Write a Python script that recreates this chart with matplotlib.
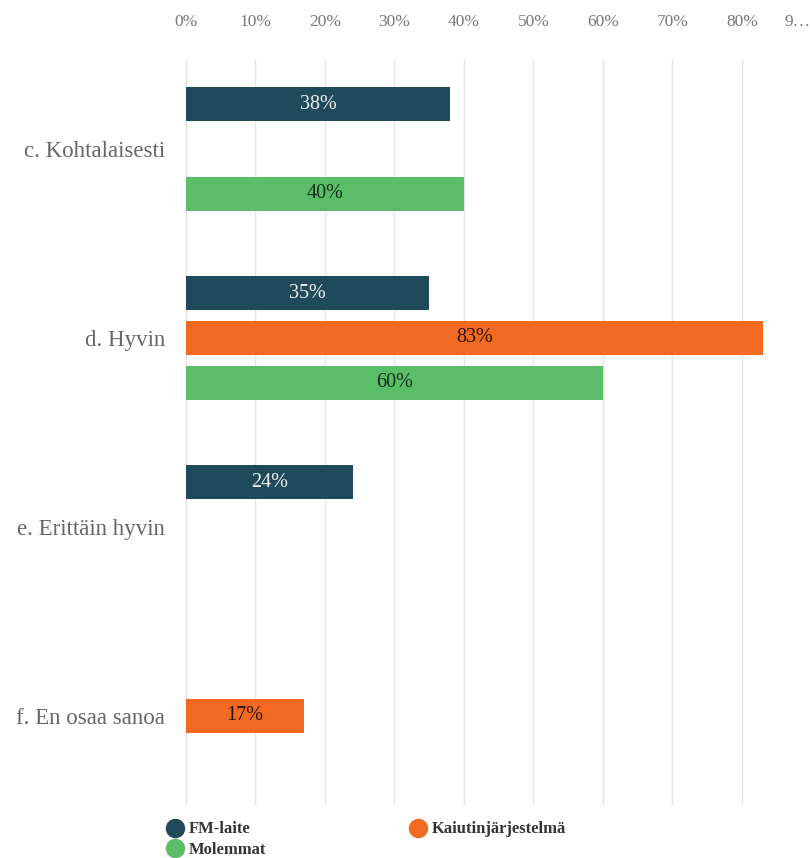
import numpy as np
import matplotlib
matplotlib.use("Agg")
import matplotlib.pyplot as plt
from matplotlib.lines import Line2D

categories = ["c. Kohtalaisesti", "d. Hyvin", "e. Erittäin hyvin", "f. En osaa sanoa"]
series_names = ["FM-laite", "Kaiutinjärjestelmä", "Molemmat"]
fm_laite = [38, 35, 24, np.nan]
kaiutin = [np.nan, 83, np.nan, 17]
molemmat = [40, 60, np.nan, np.nan]
tick_values = [0, 10, 20, 30, 40, 50, 60, 70, 80]

colors = ["#1f4a5c", "#f26a21", "#5cbd68"]
label_colors = ["#f0f0f0", "#2a1206", "#10301a"]

plt.rcParams["font.family"] = ["Liberation Serif", "DejaVu Serif"]

fig = plt.figure(figsize=(8.1, 8.58), dpi=100)
ax = fig.add_axes([0.2296, 0.062, 0.7704, 0.868])

y = np.arange(len(categories))
offsets = [-0.237, 0.0, 0.237]
height = 0.18
for vals, off, col, lc in zip([fm_laite, kaiutin, molemmat], offsets, colors, label_colors):
    vals = np.array(vals, dtype=float)
    mask = ~np.isnan(vals)
    bars = ax.barh(y[mask] + off, vals[mask], height=height, color=col, zorder=3)
    for b, v in zip(bars, vals[mask]):
        ax.text(b.get_width() / 2, b.get_y() + b.get_height() / 2, f"{v:.0f}%",
                ha="center", va="center", color=lc, fontsize=14.5, zorder=4)

ax.set_xlim(0, 89.8)
ax.set_ylim(3.47, -0.47)
ax.set_yticks(y)
ax.set_yticklabels(categories, fontsize=16.5, color="#666666")
ax.set_xticks(tick_values)
ax.set_xticklabels([f"{t}%" for t in tick_values], fontsize=12.5, color="#777777")
ax.xaxis.tick_top()
ax.tick_params(axis="x", length=0, pad=22)
ax.tick_params(axis="y", length=0, pad=15)
ax.annotate("9…", xy=(88.0, 1.0), xycoords=("data", "axes fraction"),
            xytext=(0, 22), textcoords="offset points", ha="center", va="bottom",
            fontsize=12.5, color="#777777", annotation_clip=False)
ax.grid(axis="x", color="#e3e3e3", linewidth=1, zorder=0)
for s in ax.spines.values():
    s.set_visible(False)

handles = [Line2D([], [], marker="o", linestyle="none", markersize=13, color=colors[0]),
           Line2D([], [], marker="o", linestyle="none", markersize=13, color=colors[2]),
           Line2D([], [], marker="o", linestyle="none", markersize=13, color=colors[1])]
labels = [series_names[0], series_names[2], series_names[1]]
fig.legend(handles, labels, ncol=2, loc="lower left", bbox_to_anchor=(0.187, -0.017),
           frameon=False, columnspacing=8.6, handletextpad=0.35, labelspacing=0.25,
           prop={"family": ["Liberation Serif"], "weight": "bold", "size": 12},
           labelcolor="#333333", handlelength=1.0)

fig.savefig("out.png", dpi=100)
